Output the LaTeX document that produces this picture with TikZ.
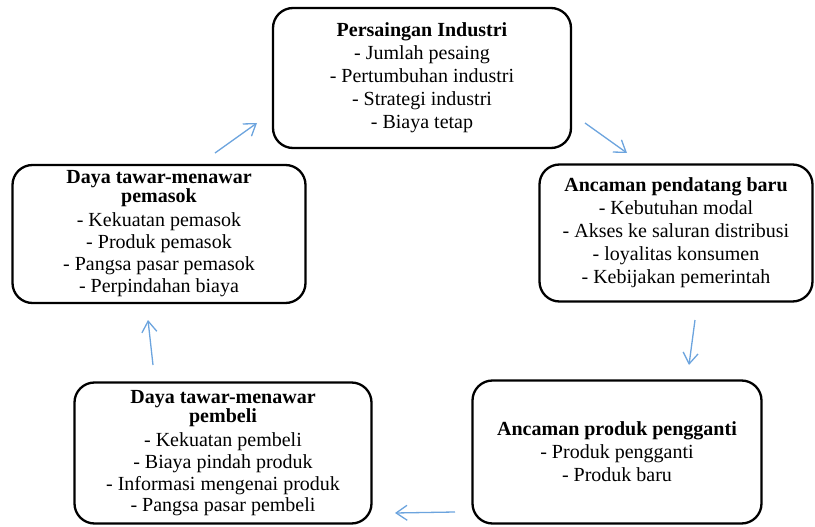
\documentclass[tikz,border=0pt]{standalone}
\usepackage{fontspec}
\setmainfont{Liberation Serif}
\newfontfamily\boxserif{Liberation Serif}
\usepackage{tikz}
\usetikzlibrary{arrows.meta,positioning,calc}
\definecolor{flowblue}{RGB}{108,164,222}
\tikzset{
  box/.style={draw, line width=2.3pt, rounded corners=20pt, align=center,
              inner sep=0pt, font=\boxserif\fontsize{20}{23}\selectfont},
  flow/.style={-{Straight Barb[length=11pt, width=15pt]}, line width=1.3pt,
               draw=flowblue},
}

\begin{document}
\begin{tikzpicture}[x=1pt, y=-1pt]
  \useasboundingbox (0,0) rectangle (815,527);
  \node[box, minimum width=298pt, minimum height=140pt] (industri) at (422,78)
    {\textbf{Persaingan Industri}\\ - Jumlah pesaing\\ - Pertumbuhan industri\\ - Strategi industri\\ - Biaya tetap};
  \node[box, minimum width=273pt, minimum height=137pt] (pendatang) at (676,233)
    {\textbf{Ancaman pendatang baru}\\ - Kebutuhan modal\\ - Akses ke saluran distribusi\\ - loyalitas konsumen\\ - Kebijakan pemerintah};
  \node[box, minimum width=289pt, minimum height=143pt] (pengganti) at (617,452)
    {\textbf{Ancaman produk pengganti}\\ - Produk pengganti\\ - Produk baru};
  \node[box, minimum width=297pt, minimum height=141pt] (pembeli) at (223,453)
    {\textbf{Daya tawar-menawar}\\[-4pt] \textbf{pembeli}\\[1pt] - Kekuatan pembeli\\[-1pt] - Biaya pindah produk\\[-1pt] - Informasi mengenai produk\\[-2pt] - Pangsa pasar pembeli};
  \node[box, minimum width=293pt, minimum height=138pt] (pemasok) at (159,234)
    {\textbf{Daya tawar-menawar}\\[-4pt] \textbf{pemasok}\\[1pt] - Kekuatan pemasok\\[-1pt] - Produk pemasok\\[-1pt] - Pangsa pasar pemasok\\[-1pt] - Perpindahan biaya};
  \coordinate (a1) at (585,123);
  \coordinate (b1) at (627,153);
  \coordinate (a2) at (695,320);
  \coordinate (b2) at (689,365);
  \coordinate (a3) at (455,512);
  \coordinate (b3) at (395,513);
  \coordinate (a4) at (153,365);
  \coordinate (b4) at (148,320);
  \coordinate (a5) at (215,153);
  \coordinate (b5) at (257,123);
  \draw[flow] (a1) -- (b1);
  \draw[flow] (a2) -- (b2);
  \draw[flow] (a3) -- (b3);
  \draw[flow] (a4) -- (b4);
  \draw[flow] (a5) -- (b5);
\end{tikzpicture}
\end{document}
